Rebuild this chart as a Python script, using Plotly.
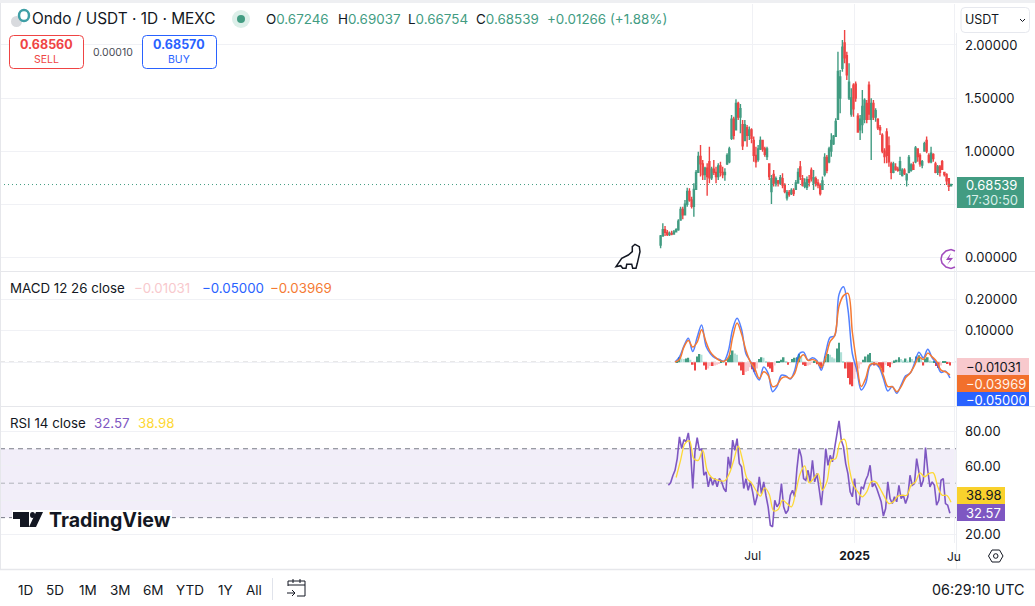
import pandas as pd
import plotly.graph_objects as go
from plotly.subplots import make_subplots

# candles, one every 4 days
candle_start = "2024-01-17"
candle_open = [.115,.20,.26,.235,.215,.225,.22,.24,.26,.35,
    .45,.40,.50,.62,.54,.48,.64,.80,.95,.88,
    .78,.84,.90,.75,.83,.80,.76,.86,.80,.78,
    .88,.90,1.12,1.30,1.20,1.45,1.32,1.25,1.10,1.22,
    1.15,1.20,1.10,.96,.92,1.02,1.10,1.02,.95,.88,
    .62,.78,.70,.72,.70,.74,.68,.56,.61,.60,
    .63,.64,.70,.85,.74,.67,.66,.73,.82,.70,
    .74,.70,.68,.64,.78,.94,.90,1.00,1.07,1.14,
    1.30,1.50,1.78,2.02,1.90,1.50,1.35,1.62,1.63,1.33,
    1.20,1.25,1.30,1.45,1.62,1.30,1.45,1.32,1.30,1.22,
    1.15,1.00,1.18,1.05,.88,.80,.85,.83,.82,.77,
    .82,.73,.80,.82,.87,.90,1.02,.96,.87,1.00,
    1.10,.96,.90,.97,.88,.80,.85,.90,.80,.78,.74,.67246]
candle_high = [.21,.32,.295,.257,.242,.25,.257,.273,.358,.477,
    .477,.54,.656,.65,.571,.697,.823,.995,1.058,.917,
    .854,.885,1.042,.854,.917,.854,.885,.90,.854,.838,
    .98,1.042,1.34,1.325,1.488,1.466,1.444,1.294,1.294,1.246,
    1.231,1.215,1.137,1.042,1.058,1.137,1.105,1.042,1.042,.885,
    .776,.823,.76,.728,.776,.791,.697,.634,.634,.65,
    .65,.728,.838,.907,.776,.744,.76,.776,.845,.823,
    .76,.735,.697,.76,.98,.964,1.042,1.168,1.152,1.309,
    1.937,1.765,2.047,2.141,1.937,1.827,1.592,1.639,1.655,1.356,
    1.341,1.576,1.498,1.482,1.655,1.498,1.482,1.403,1.309,1.246,
    1.168,1.027,1.215,1.137,.90,.90,.885,.854,.948,.838,
    .838,.791,.964,.885,.90,1.049,1.027,.98,.917,1.089,
    1.137,.98,1.042,.98,.90,.87,.87,.917,.807,.791,.745,.69037]
candle_low = [.085,.195,.20,.20,.20,.207,.22,.242,.25,.352,
    .358,.40,.477,.524,.46,.383,.634,.80,.76,.728,
    .728,.58,.697,.728,.775,.697,.728,.76,.744,.722,
    .87,.885,1.105,1.11,1.262,1.294,1.168,1.01,1.137,1.042,
    1.105,1.074,.90,.845,.90,1.01,.995,.948,.917,.728,
    .502,.666,.666,.666,.681,.65,.603,.534,.571,.587,
    .578,.634,.697,.728,.666,.65,.634,.666,.713,.634,
    .666,.65,.581,.634,.76,.791,.885,.948,1.058,1.137,
    1.309,1.356,1.749,1.827,1.67,1.482,1.325,1.325,1.466,1.184,
    1.105,1.168,1.262,1.262,1.294,.917,1.294,1.278,1.20,1.152,
    .98,.885,.885,.854,.735,.791,.816,.807,.776,.76,
    .776,.666,.791,.807,.823,.885,.90,.854,.838,.995,
    .98,.885,.885,.90,.791,.776,.76,.823,.76,.681,.625,.66754]
candle_close = [.20,.26,.235,.215,.225,.22,.24,.26,.34,.45,
    .40,.50,.62,.54,.48,.64,.80,.95,.88,.78,
    .84,.76,.75,.83,.80,.76,.86,.80,.78,.80,
    .96,1.02,1.30,1.15,1.45,1.32,1.40,1.05,1.25,1.15,
    1.20,1.12,.96,.90,1.02,1.10,1.02,.97,1.02,.76,
    .74,.70,.74,.70,.75,.68,.62,.61,.59,.63,
    .60,.70,.80,.76,.68,.70,.73,.71,.74,.75,
    .70,.68,.60,.72,.94,.82,1.02,1.10,1.14,1.28,
    1.75,1.70,1.98,1.88,1.72,1.65,1.50,1.40,1.50,1.18,
    1.30,1.42,1.48,1.30,1.35,1.45,1.32,1.38,1.22,1.20,
    1.00,.95,.96,.90,.80,.88,.83,.82,.90,.82,
    .79,.78,.94,.87,.83,1.03,.95,.88,.90,1.07,
    1.00,.90,.98,.93,.80,.85,.80,.83,.78,.72,.67,.68539]
last_price = 0.68539

# macd lines, one every 8 days
macd_start = "2024-02-12"
macd_line = [.001,.017,.051,.076,.034,.079,.118,.051,.027,.014,.009,.003,.034,.105,.139,.105,
    .027,.003,-.035,-.056,-.015,-.035,-.093,-.077,-.041,-.043,-.053,-.025,.027,.032,.006,.014,
    .006,-.025,.032,.079,.084,.215,.239,.168,.027,-.025,-.0875,-.067,-.011,-.004,-.015,-.051,
    -.091,-.077,-.098,-.072,-.043,-.035,-.004,.032,.014,.041,.014,-.004,-.032,-.028,-.050]
signal_line = [.001,.009,.048,.069,.048,.064,.103,.064,.032,.017,.006,.003,.014,.079,.124,.09,
    .0375,.001,-.02,-.051,-.03,-.041,-.077,-.072,-.051,-.046,-.051,-.035,.009,.024,.006,.009,
    .003,-.015,.017,.066,.084,.178,.211,.218,.095,-.004,-.077,-.051,-.007,-.004,-.009,-.041,
    -.077,-.077,-.093,-.077,-.049,-.035,-.011,.017,.009,.029,.017,.003,-.025,-.03,-.0397]
# histogram, one every 4 days
macd_hist = [0,.002,.016,.012,.010,.012,.014,.008,-.008,-.026,.018,.026,.024,-.010,-.024,-.020,
    -.012,-.012,-.010,-.008,-.004,.006,.005,-.010,.014,.024,.037,.028,.024,-.010,-.026,-.040,
    -.030,-.028,-.016,-.022,-.030,-.020,.010,.016,.014,.002,-.014,-.020,-.031,-.010,.002,.004,
    .008,.016,.004,-.008,-.002,.010,.014,.016,.026,.018,-.008,-.012,-.010,-.008,-.002,.004,
    -.006,-.010,-.020,-.012,.018,.026,.024,.016,.012,.044,.062,.032,.004,-.020,-.050,-.070,
    -.076,-.052,-.030,-.020,-.006,.008,.018,.025,.029,.004,-.010,-.006,-.014,-.020,-.032,-.008,
    -.012,-.016,-.006,.006,.008,.016,.010,.006,.012,.006,.016,.010,.002,.018,.022,.014,
    -.010,.012,.016,.006,.002,.002,-.012,-.018,-.010,.002,.004,-.004,-.0103]

# rsi, one every 4 days
rsi_start = "2024-01-31"
rsi_values = [48.8,50.2,54.3,57.5,64.3,76.9,70.1,75.3,74,79.2,69.1,46.9,68.2,76.5,69,70.1,
    54.6,56.6,47.9,53.7,48.8,52.7,47.9,52.7,50.8,46.9,45,65.3,58.5,75,69.1,75.9,61.4,59.5,
    46.9,52.7,45.9,50.8,45,37.2,42.1,53.7,44,50.8,43,36.3,25.6,24.7,40.1,36.3,38.2,49.8,
    36.3,32.4,34.3,43,45.9,42.1,58.5,70.1,65.3,52.7,51.7,57.5,50.8,63.3,50.8,55.6,46.9,37.2,
    50.8,70.1,60.4,66.2,62.4,71.1,78.8,86.2,75,71.1,61.4,55.6,45,42.1,52.7,38.2,37.2,47.9,
    46.9,51.7,54.6,60.4,47.9,49.8,46.9,43,39.2,30.9,35.3,50.8,41.1,38.2,42.1,39.2,48.8,41.1,
    43,38.2,42,54.6,48.8,49.8,64.3,56.6,47.9,51.7,70.7,57.5,47.9,50.8,48.8,37.2,40.1,51.7,
    52.7,38.2,37.2,32.57]
# rsi average, one every 8 days
rsi_ma_start = "2024-02-14"
rsi_ma = [53.3,63.3,73,74.6,64.3,63.3,69.1,57.5,53.3,52.1,51.4,51.4,55.6,63.3,71.5,63.3,52.7,
    50.2,45.9,42.5,47.3,43.6,33.9,34.7,40.1,38.2,36.3,45,55.6,60,50.2,52.7,55.6,45.9,50.8,
    63.3,64.3,74,75.5,59.5,48.8,45,42.1,45,50.8,50.8,46.9,42.1,38.2,39.2,42.5,43,43,48.8,
    50.8,56,53.7,55.6,56,47.9,43,43,38.98]

period_labels = ["1D", "5D", "1M", "3M", "6M", "YTD", "1Y", "All"]
GREEN = "#429c82"
RED = "#ef4444"
BLUE = "#2962ff"
ORANGE = "#f57a33"
PURPLE = "#7e57c2"
YELLOW = "#fdd835"
INK = "#131722"
GRID = "#f0f1f5"
W, H = 1035, 606
FONT = "Inter"


def X(px):
    return px / W


def Y(py):
    return 1 - py / H


def rrect(x0, y0, x1, y1, r=4):
    return (f"M {X(x0+r)} {Y(y0)} L {X(x1-r)} {Y(y0)} Q {X(x1)} {Y(y0)} {X(x1)} {Y(y0+r)} "
            f"L {X(x1)} {Y(y1-r)} Q {X(x1)} {Y(y1)} {X(x1-r)} {Y(y1)} L {X(x0+r)} {Y(y1)} "
            f"Q {X(x0)} {Y(y1)} {X(x0)} {Y(y1-r)} L {X(x0)} {Y(y0+r)} Q {X(x0)} {Y(y0)} {X(x0+r)} {Y(y0)} Z")


def poly(points, close=True):
    s = "M " + " L ".join(f"{X(a)} {Y(b)}" for a, b in points)
    return s + (" Z" if close else "")


fig = make_subplots(rows=3, cols=1, shared_xaxes=True, vertical_spacing=0)

candle_dates = pd.date_range(candle_start, periods=len(candle_open), freq="4D")
fig.add_trace(go.Candlestick(x=candle_dates, open=candle_open, high=candle_high, low=candle_low,
                             close=candle_close, whiskerwidth=0,
                             increasing=dict(line=dict(color=GREEN, width=1.4), fillcolor=GREEN),
                             decreasing=dict(line=dict(color=RED, width=1.4), fillcolor=RED)),
              row=1, col=1)

hist_colors = []
for i, v in enumerate(macd_hist):
    prev = macd_hist[i - 1] if i else 0
    if v >= 0:
        hist_colors.append(GREEN if v >= prev else "#aedfd6")
    else:
        hist_colors.append(RED if v <= prev else "#f9c9ce")
hist_dates = pd.date_range(macd_start, periods=len(macd_hist), freq="4D")
fig.add_trace(go.Bar(x=hist_dates, y=macd_hist, marker_color=hist_colors, marker_line_width=0), row=2, col=1)
macd_dates = pd.date_range(macd_start, periods=len(macd_line), freq="8D")
fig.add_trace(go.Scatter(x=macd_dates, y=macd_line, mode="lines", line=dict(color=BLUE, width=1.5, shape="spline"),
                         opacity=0.8), row=2, col=1)
fig.add_trace(go.Scatter(x=macd_dates, y=signal_line, mode="lines", line=dict(color=ORANGE, width=1.5, shape="spline")),
              row=2, col=1)

rsi_dates = pd.date_range(rsi_start, periods=len(rsi_values), freq="4D")
fig.add_trace(go.Scatter(x=rsi_dates, y=rsi_values, mode="lines", line=dict(color=PURPLE, width=1.6)), row=3, col=1)
ma_dates = pd.date_range(rsi_ma_start, periods=len(rsi_ma), freq="8D")
fig.add_trace(go.Scatter(x=ma_dates, y=rsi_ma, mode="lines", line=dict(color=YELLOW, width=1.3, shape="spline")),
              row=3, col=1)

fig.update_xaxes(range=["2020-10-12", "2025-07-03"], domain=[0, X(956)], rangeslider_visible=False,
                 showgrid=True, gridcolor=GRID, zeroline=False, showline=False,
                 tickvals=["2024-07-01", "2025-01-01", "2025-07-01"], ticks="")
fig.update_xaxes(ticktext=["Jul", "<b>2025</b>", " "], tickfont=dict(size=12, color=INK, family=FONT),
                 ticklabelstandoff=4, row=3, col=1)
fig.update_yaxes(side="right", gridcolor=GRID, zeroline=False, showline=False, ticks="",
                 ticklabelstandoff=8, tickfont=dict(size=13, color=INK, family=FONT))
fig.update_yaxes(row=1, col=1, domain=[Y(271), Y(4)], range=[-0.129, 2.386],
                 tickvals=[0, 0.5, 1, 1.5, 2], ticktext=["0.00000", " ", "1.00000", "1.50000", "2.00000"])
fig.update_yaxes(row=2, col=1, domain=[Y(406.5), Y(272)], range=[-0.14, 0.2858],
                 tickvals=[0, 0.1, 0.2], ticktext=[" ", "0.10000", "0.20000"])
fig.update_yaxes(row=3, col=1, domain=[Y(543), Y(407)], range=[15.27, 94.25],
                 tickvals=[20, 40, 60, 80], ticktext=["20.00", " ", "60.00", "80.00"])

shapes = []
# rsi band and levels
shapes.append(dict(type="rect", xref="paper", yref="y3", x0=0, x1=X(956), y0=30, y1=70,
                   fillcolor="rgba(126,87,194,0.10)", line_width=0, layer="below"))
for lv, col in [(70, "#787b86"), (50, "#b0b2ba"), (30, "#787b86")]:
    shapes.append(dict(type="line", xref="paper", yref="y3", x0=0, x1=X(956), y0=lv, y1=lv,
                       line=dict(color=col, width=1, dash="5px,4px"), layer="below"))
shapes.append(dict(type="line", xref="paper", yref="y2", x0=0, x1=X(956), y0=0, y1=0,
                   line=dict(color="#9a9aa0", width=1, dash="5px,4px"), layer="below"))
# last price line
shapes.append(dict(type="line", xref="paper", yref="y", x0=0, x1=X(956), y0=last_price, y1=last_price,
                   line=dict(color=GREEN, width=1, dash="1px,3px"), layer="above"))


def paper_shape(**kw):
    shapes.append(dict(xref="paper", yref="paper", layer="above", **kw))


def hline(y, x0=0, x1=W, color="#e6e7eb", width=1):
    paper_shape(type="line", x0=X(x0), x1=X(x1), y0=Y(y), y1=Y(y), line=dict(color=color, width=width))


paper_shape(type="rect", x0=0, x1=1, y0=Y(3), y1=1, fillcolor="#eeeff2", line_width=0)
hline(271.5)
hline(406.5)
hline(569.5, width=1.5)
paper_shape(type="line", x0=X(956.5), x1=X(956.5), y0=Y(569), y1=Y(33), line=dict(color="#eceef2", width=1))
paper_shape(type="line", x0=X(0.5), x1=X(0.5), y0=Y(569), y1=Y(3), line=dict(color="#e6e7eb", width=1))

# order buttons
paper_shape(type="path", path=rrect(9.5, 35.5, 83.5, 68.5), line=dict(color=RED, width=1), fillcolor="white")
paper_shape(type="path", path=rrect(142.5, 35.5, 216.5, 68.5), line=dict(color=BLUE, width=1), fillcolor="white")
paper_shape(type="path", path=rrect(961, 7.5, 1029.5, 32.5), line=dict(color="#e6e8ee", width=1), fillcolor="white")

# header icons
paper_shape(type="circle", x0=X(232), x1=X(250), y0=Y(28), y1=Y(10), fillcolor="#dcefe9", line_width=0)
paper_shape(type="circle", x0=X(237), x1=X(245), y0=Y(23), y1=Y(15), fillcolor=GREEN, line_width=0)
paper_shape(type="circle", x0=X(11), x1=X(22), y0=Y(27), y1=Y(16), fillcolor="#d8dade", line_width=0)
paper_shape(type="circle", x0=X(19), x1=X(29), y0=Y(21), y1=Y(10), fillcolor="white", line=dict(color="#3f9fa6", width=2.5))

# price axis labels
box_rows = [(177, 208, 1024, GREEN), (358, 375, 1029, "#f8c9cd"), (375, 392, 1029, "#f2702c"),
            (392, 406, 1029, BLUE), (487, 504, 1005, "#f9d12c"), (504, 521, 1005, PURPLE)]
for y0, y1, x1, col in box_rows:
    paper_shape(type="rect", x0=X(957), x1=X(x1), y0=Y(y1), y1=Y(y0), fillcolor=col, line_width=0)

# dino
paper_shape(type="path", path=poly([(616, 266.7), (621.7, 258.3), (628.3, 255), (632.3, 251.7), (632.3, 246.7),
                                    (635, 244.3), (639.3, 246.7), (640, 251.7), (637.3, 263.3), (636, 268.3),
                                    (632.7, 268.3), (631.7, 264.3), (626.7, 264.3), (626, 268.3), (622.7, 268.3),
                                    (620.7, 265.7)]),
            line=dict(color=INK, width=1.5), fillcolor="white")
# lightning badge, cut by the price axis
paper_shape(type="path", path=poly([(955, 251), (951, 249.5), (946, 251), (942, 255), (941, 259), (942, 263),
                                    (946, 267), (951, 268.5), (955, 267)], close=False),
            line=dict(color="#a14bbd", width=1.5))
paper_shape(type="path", path=poly([(951, 253), (946, 260), (950, 260), (947, 265), (953, 258), (949, 258)]),
            line_width=0, fillcolor="#a14bbd")

# tradingview logo
paper_shape(type="rect", x0=X(12), x1=X(172), y0=Y(531), y1=Y(510), fillcolor="white", line_width=0)
paper_shape(type="path", path=poly([(13, 512), (29, 512), (29, 527), (20, 527), (20, 519), (13, 519)]),
            line_width=0, fillcolor=INK)
paper_shape(type="circle", x0=X(30), x1=X(35), y0=Y(518), y1=Y(512), fillcolor=INK, line_width=0)
paper_shape(type="path", path=poly([(36, 512), (43, 512), (36, 527), (29, 527)]), line_width=0, fillcolor=INK)

# calendar icon
paper_shape(type="path", path=poly([(288, 586), (288, 581), (305, 581), (305, 596), (297, 596)], close=False),
            line=dict(color=INK, width=1))
paper_shape(type="path", path=poly([(288, 585), (305, 585)], close=False), line=dict(color=INK, width=1))
paper_shape(type="path", path=poly([(293, 579), (293, 583)], close=False), line=dict(color=INK, width=1))
paper_shape(type="path", path=poly([(300, 579), (300, 583)], close=False), line=dict(color=INK, width=1))
paper_shape(type="path", path=poly([(287, 593), (295, 593), (292, 590)], close=False), line=dict(color=INK, width=1))
paper_shape(type="path", path=poly([(295, 593), (292, 596)], close=False), line=dict(color=INK, width=1))
paper_shape(type="line", x0=X(272.5), x1=X(272.5), y0=Y(600), y1=Y(578), line=dict(color="#e0e3eb", width=1))
# settings icon
paper_shape(type="path", path=poly([(988.5, 556), (992, 550), (999.5, 550), (1003, 556), (999.5, 562), (992, 562)]),
            line=dict(color=INK, width=1))
paper_shape(type="circle", x0=X(993.5), x1=X(998), y0=Y(558.3), y1=Y(553.7), line=dict(color=INK, width=1))
# select chevron
paper_shape(type="path", path=poly([(1020, 19), (1022.5, 21.5), (1025, 19)], close=False), line=dict(color=INK, width=1))

fig.update_layout(shapes=shapes)


def text(px, py, s, size=13, color=INK, anchor="left", family=FONT):
    fig.add_annotation(xref="paper", yref="paper", x=X(px), y=Y(py), text=s, showarrow=False,
                       xanchor=anchor, yanchor="middle", font=dict(size=size, color=color, family=family),
                       borderpad=0, borderwidth=0)


text(32, 19, "Ondo / USDT · 1D · MEXC", size=15.4)
g = f'<span style="color:{GREEN}">'
text(266, 19, f"O{g}0.67246</span>", size=13.4)
text(337.7, 19, f"H{g}0.69037</span>", size=13.4)
text(408.3, 19, f"L{g}0.66754</span>", size=13.4)
text(476, 19, f"C{g}0.68539</span>", size=13.4)
text(546.7, 19, f"{g}+0.01266 (+1.88%)</span>", size=13.4)
text(46, 45, "<b>0.68560</b>", size=12.5, color=RED, anchor="center")
text(46, 60, "SELL", size=10.5, color=RED, anchor="center")
text(113, 52, "0.00010", size=10.5, color="#4a4d57", anchor="center")
text(179, 45, "<b>0.68570</b>", size=12.5, color=BLUE, anchor="center")
text(179, 60, "BUY", size=10.5, color=BLUE, anchor="center")
text(964.5, 20, "USDT", size=12.5)

text(10, 288, "MACD 12 26 close", size=13.3)
text(134, 288, "−0.01031", size=13.3, color="#f8c9cd")
text(202, 288, "−0.05000", size=13.3, color=BLUE)
text(270, 288, "−0.03969", size=13.3, color=ORANGE)
text(10, 423, "RSI 14 close", size=13.3)
text(94, 423, "32.57", size=13.3, color=PURPLE)
text(138, 423, "38.98", size=13.3, color=YELLOW)

text(966, 185, "0.68539", size=13, color="white")
text(966, 200, "17:30:50", size=13, color="#d8efe8")
text(966, 367, "−0.01031", size=13)
text(966, 384, "−0.03969", size=13, color="#fff3ea")
text(966, 400, "−0.05000", size=13, color="white")
text(966, 495, "38.98", size=13)
text(966, 513, "32.57", size=13, color="white")
text(947, 556, "Ju", size=12)

text(49, 520, "<b>TradingView</b>", size=19.6)
period_x = [25, 55, 88, 120, 153, 190, 225, 254]
for lab, px in zip(period_labels, period_x):
    text(px, 590, lab, size=13.5, anchor="center")
text(1024, 589, "06:29:10 UTC", size=14.3, anchor="right")

fig.update_layout(width=W, height=H, margin=dict(l=0, r=0, t=0, b=0), autosize=False, showlegend=False,
                  paper_bgcolor="white", plot_bgcolor="white", bargap=0.25, hovermode=False,
                  font=dict(family=FONT, color=INK))

fig.write_html("out.html", config=dict(displayModeBar=False), post_script="document.body.style.margin='0';")
